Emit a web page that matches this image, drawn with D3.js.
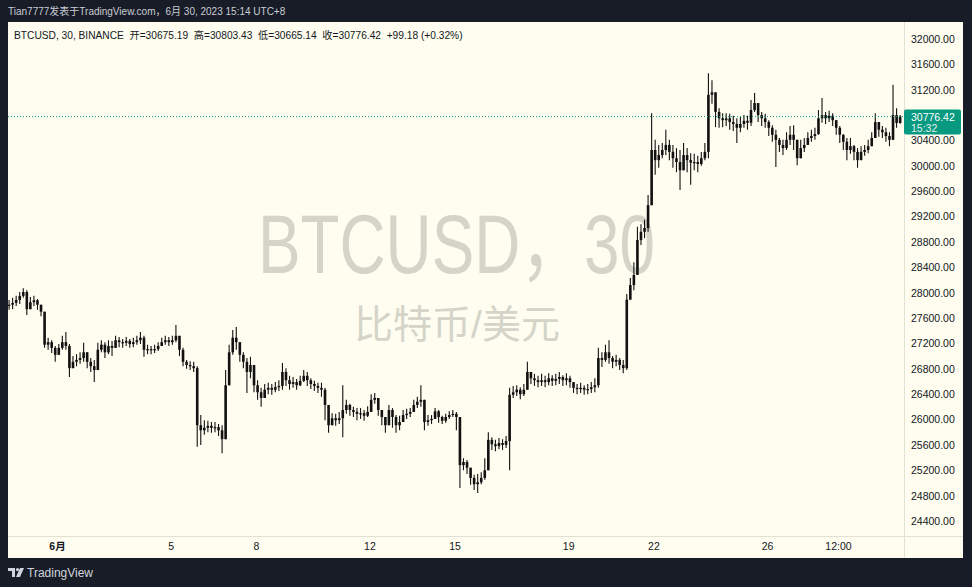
<!DOCTYPE html>
<html><head><meta charset="utf-8">
<script src="https://cdn.jsdelivr.net/npm/d3@7/dist/d3.min.js"></script>
<style>
body{margin:0;background:#181c27;}
svg{display:block;}
text{font-family:"Liberation Sans",Arial,"Noto Sans CJK SC",sans-serif;}
</style></head><body>
<svg id="c" width="972" height="587"></svg>
<script>
// ---- data: BTCUSD, 3h aggregated candles (UTC+8 clock), from 2023-05-30 06:00 ----
const startTime = "2023-05-30T06:00:00Z";
const intervalHours = 3;
const firstOpen = 27800;
const closes = [
27810,27840,27885,27950,28010,27740,
27850,27880,27810,27700,27180,27220,27130,27020,
27130,27220,27160,26810,26910,26940,26970,27060,
26910,26840,26780,27100,27180,27060,27160,27130,
27250,27220,27210,27240,27190,27220,27250,27290,
27100,27110,27100,27110,27160,27220,27250,27220,
27250,27320,27100,26910,26860,26840,26810,25910,
25830,25870,25900,25870,25880,25830,25690,26540,
27060,27290,27220,27020,26910,26750,26860,26540,
26430,26340,26470,26500,26470,26510,26530,26750,
26620,26560,26590,26540,26610,26690,26620,26560,
26530,26500,26470,26230,25910,26020,25990,26020,
26150,26230,26150,26120,26090,26100,26060,26120,
26310,26340,26150,26040,25910,26150,26040,25910,
25960,26070,26090,26120,26230,26280,26310,25960,
25990,26010,26130,26040,25980,26040,26070,26090,
26040,25280,25330,25240,25080,24980,25010,25080,
25200,25680,25610,25580,25630,25600,25660,26390,
26430,26470,26400,26470,26750,26650,26620,26590,
26620,26590,26650,26610,26640,26670,26620,26650,
26590,26500,26480,26500,26470,26480,26510,26540,
26970,26940,27060,26970,26910,26940,26860,26810,
27890,28120,28280,28830,28960,29020,29380,30250,
30090,30170,30250,30330,30220,30120,30060,29930,
30170,30090,30050,30060,30030,30120,30220,31120,
31160,30850,30750,30720,30750,30690,30660,30600,
30660,30710,30680,30880,30990,30800,30750,30690,
30600,30490,30410,30330,30280,30410,30490,30410,
30120,30280,30330,30440,30470,30500,30750,30800,
30750,30790,30720,30600,30490,30380,30250,30310,
30220,30090,30220,30250,30310,30440,30690,30570,
30530,30470,30410,30800,30675.19,30776.42];
const highs = [
27885,27920,27950,28010,28070,28040,
27930,27950,27900,27790,27700,27290,27250,27160,
27190,27320,27380,27190,27000,27030,27060,27210,
27020,26970,26940,27210,27250,27220,27250,27240,
27320,27300,27270,27300,27270,27290,27320,27380,
27320,27180,27160,27180,27220,27290,27320,27300,
27320,27490,27290,27130,26940,26920,26910,26840,
26070,25990,25980,25960,25960,25930,25910,26780,
27180,27410,27460,27180,27060,26970,26990,26780,
26620,26500,26560,26580,26560,26590,26620,26890,
26810,26690,26670,26640,26690,26780,26750,26650,
26610,26580,26580,26500,26150,26100,26090,26120,
26540,26310,26250,26200,26180,26180,26150,26210,
26400,26420,26320,26150,26040,26230,26180,26070,
26060,26150,26170,26180,26310,26360,26540,26230,
26070,26070,26180,26150,26060,26090,26130,26150,
26120,25910,25390,25360,25200,25130,25140,25170,
25390,25800,25720,25680,25710,25690,25740,26500,
26530,26540,26510,26560,26910,26750,26720,26690,
26720,26690,26730,26700,26720,26750,26700,26730,
26690,26590,26560,26580,26540,26560,26590,26650,
27130,27060,27180,27250,27000,27020,26970,26940,
27980,28230,28480,29040,29080,29150,29540,30830,
30410,30330,30360,30570,30410,30330,30280,30250,
30360,30280,30200,30190,30160,30220,30360,31460,
31350,31100,30910,30830,30830,30820,30790,30750,
30770,30800,30790,31040,31150,30960,30850,30820,
30720,30640,30570,30440,30410,30530,30630,30640,
30380,30410,30440,30530,30570,30600,30880,31070,
30850,30870,30830,30720,30630,30500,30440,30440,
30330,30280,30310,30330,30410,30530,30830,30690,
30630,30600,30530,31280,30910,30803.43];
const lows = [
27730,27740,27790,27820,27920,27650,
27740,27790,27730,27630,27130,27100,27050,26910,
27050,27100,27100,26670,26810,26840,26880,26910,
26810,26750,26590,26910,27060,26970,27030,27000,
27160,27140,27130,27160,27130,27140,27180,27190,
26990,27030,27030,27050,27080,27160,27180,27160,
27180,27220,27000,26840,26800,26780,26750,25570,
25600,25760,25800,25790,25800,25740,25470,25990,
26750,27020,27100,26910,26810,26420,26650,26430,
26310,26200,26370,26400,26390,26430,26450,26470,
26530,26470,26500,26470,26530,26590,26530,26480,
26450,26420,26360,25990,25790,25910,25900,25930,
25720,26090,26060,26040,25990,26010,25980,26040,
26180,26250,26060,25910,25790,25910,25870,25790,
25830,25990,26010,26040,26120,26180,26200,25830,
25900,25930,26040,25950,25930,25950,26010,26040,
25830,24920,25200,25140,24970,24890,24840,24980,
25050,25360,25520,25500,25530,25520,25550,25200,
26340,26370,26320,26370,26470,26560,26530,26510,
26530,26510,26540,26530,26540,26560,26530,26540,
26500,26420,26400,26420,26390,26400,26420,26430,
26500,26830,26910,26880,26810,26840,26780,26730,
26780,27890,28040,28390,28750,28860,28960,29380,
29860,29970,30120,30170,30090,29970,29900,29620,
29970,29900,29700,29930,29900,30000,30090,30120,
30980,30610,30600,30610,30630,30570,30550,30360,
30530,30600,30570,30630,30850,30690,30630,30600,
30470,30380,29980,30220,30170,30250,30330,30250,
30010,30170,30220,30330,30380,30410,30490,30680,
30660,30690,30630,30490,30360,30250,30090,30190,
30090,29970,30120,30160,30200,30330,30490,30460,
30440,30380,30310,30410,30600,30665.14];

const priceTicks = [32000,31600,31200,30800,30400,30000,29600,29200,28800,28400,28000,27600,27200,26800,26400,26000,25600,25200,24800,24400];
const timeTickDates = ["2023-06-01T00:00:00Z","2023-06-05T00:00:00Z","2023-06-08T00:00:00Z","2023-06-12T00:00:00Z","2023-06-15T00:00:00Z","2023-06-19T00:00:00Z","2023-06-22T00:00:00Z","2023-06-26T00:00:00Z","2023-06-28T12:00:00Z"];
const timeTickLabels = ["6月","5","8","12","15","19","22","26","12:00"];
const lastPrice = 30776.42;
const countdown = "15:32";
const titleText = "Tian7777发表于TradingView.com，6月 30, 2023 15:14 UTC+8";
const legendText = "BTCUSD, 30, BINANCE  开=30675.19  高=30803.43  低=30665.14  收=30776.42  +99.18 (+0.32%)";
const watermark1 = "BTCUSD，30";
const watermark2 = "比特币/美元";

// ---- layout ----
const svg = d3.select("#c");
const P = {l:8, r:963, t:22, b:558, plotR:904, plotB:536};
const bgCream = "#fefdf0";

svg.append("rect").attr("x",0).attr("y",0).attr("width",972).attr("height",587).attr("fill","#181c27");
svg.append("text").attr("x",8).attr("y",15).attr("fill","#c9ccd4").attr("font-size",10).text(titleText);
svg.append("rect").attr("x",P.l).attr("y",P.t).attr("width",P.r-P.l).attr("height",P.b-P.t).attr("fill",bgCream);

const x = d3.scaleUtc().domain([new Date("2023-06-01T00:00:00Z"), new Date("2023-06-26T00:00:00Z")]).range([57,767]);
const y = d3.scaleLinear().domain([24400,32000]).range([521,39]);

// watermark
svg.append("text").attr("x",258).attr("y",273)
  .attr("font-size",83).attr("fill","#d4d4c9").attr("textLength",397).attr("lengthAdjust","spacingAndGlyphs").text(watermark1);
svg.append("text").attr("x",457).attr("y",338).attr("text-anchor","middle")
  .attr("font-size",39).attr("fill","#d4d4c9").attr("font-family","'Noto Sans CJK SC',sans-serif").text(watermark2);

// legend
svg.append("text").attr("x",14).attr("y",39).attr("fill","#131722").attr("font-size",10.2).style("white-space","pre").text(legendText);

// candles
const t0 = new Date(startTime).getTime();
const data = closes.map((c,i)=>({
  t: new Date(t0 + i*intervalHours*3600e3),
  o: i ? closes[i-1] : firstOpen, h: highs[i], l: lows[i], c
}));
svg.append("clipPath").attr("id","plotclip").append("rect").attr("x",P.l).attr("y",P.t).attr("width",P.plotR-P.l).attr("height",P.plotB-P.t);
const g = svg.append("g").attr("clip-path","url(#plotclip)");
const half = intervalHours*1800e3;
const cx = d => x(new Date(d.t.getTime()+half));
g.selectAll("line.w").data(data).join("line").attr("class","w")
  .attr("x1",cx).attr("x2",cx)
  .attr("y1",d=>y(Math.max(d.h,d.o,d.c))).attr("y2",d=>y(Math.min(d.l,d.o,d.c)))
  .attr("stroke","#111").attr("stroke-width",1.1);
g.selectAll("rect.b").data(data).join("rect").attr("class","b")
  .attr("x",d=>cx(d)-1.3).attr("width",2.6)
  .attr("y",d=>y(Math.max(d.o,d.c)))
  .attr("height",d=>Math.max(1.2,Math.abs(y(d.o)-y(d.c))))
  .attr("fill","#111");

// last price line
svg.append("line").attr("x1",P.l).attr("x2",P.plotR).attr("y1",y(lastPrice)).attr("y2",y(lastPrice))
  .attr("stroke","#089981").attr("stroke-width",1).attr("stroke-dasharray","1,2");

// dividers
svg.append("line").attr("x1",P.plotR+0.5).attr("x2",P.plotR+0.5).attr("y1",P.t).attr("y2",P.b).attr("stroke","#e2e2d4");
svg.append("line").attr("x1",P.l).attr("x2",P.r).attr("y1",P.plotB+0.5).attr("y2",P.plotB+0.5).attr("stroke","#e2e2d4");

// price axis
const ya = svg.append("g").attr("transform",`translate(${P.plotR},0)`)
  .call(d3.axisRight(y).tickValues(priceTicks).tickSize(0).tickPadding(7).tickFormat(d3.format(".2f")));
ya.select(".domain").remove();
ya.selectAll("text").attr("fill","#131722").attr("font-size",10.5).attr("font-family","'Liberation Sans',Arial,sans-serif");

// time axis
const tickDates = timeTickDates.map(s=>new Date(s));
const xa = svg.append("g").attr("transform",`translate(0,${P.plotB})`)
  .call(d3.axisBottom(x).tickValues(tickDates).tickSize(0).tickPadding(7).tickFormat((d,i)=>timeTickLabels[i]));
xa.select(".domain").remove();
xa.selectAll("text").attr("fill","#131722").attr("font-size",10.5).attr("font-family","'Liberation Sans',Arial,'Noto Sans CJK SC',sans-serif")
  .attr("font-weight",(d,i)=>i===0?"bold":"normal");

// last price label
const ly = y(lastPrice);
svg.append("rect").attr("x",P.plotR).attr("y",ly-7).attr("width",57).attr("height",25).attr("rx",2).attr("fill","#089981");
svg.append("text").attr("x",P.plotR+7).attr("y",ly+4).attr("fill","#fff").attr("font-size",10.5).text(d3.format(".2f")(lastPrice));
svg.append("text").attr("x",P.plotR+7).attr("y",ly+15.5).attr("fill","#e0f2ee").attr("font-size",10.5).text(countdown);

// footer logo
const lg = svg.append("g").attr("transform","translate(8,568)").attr("fill","#d1d4dc");
lg.append("path").attr("d","M0,0 H7 V9 H4 V3 H0 Z");
lg.append("circle").attr("cx",9.5).attr("cy",1.6).attr("r",1.6);
lg.append("path").attr("d","M12,0 H16 L12,9 H8 Z");
svg.append("text").attr("x",27).attr("y",577).attr("fill","#d1d4dc").attr("font-size",12).text("TradingView");
</script>
</body></html>
